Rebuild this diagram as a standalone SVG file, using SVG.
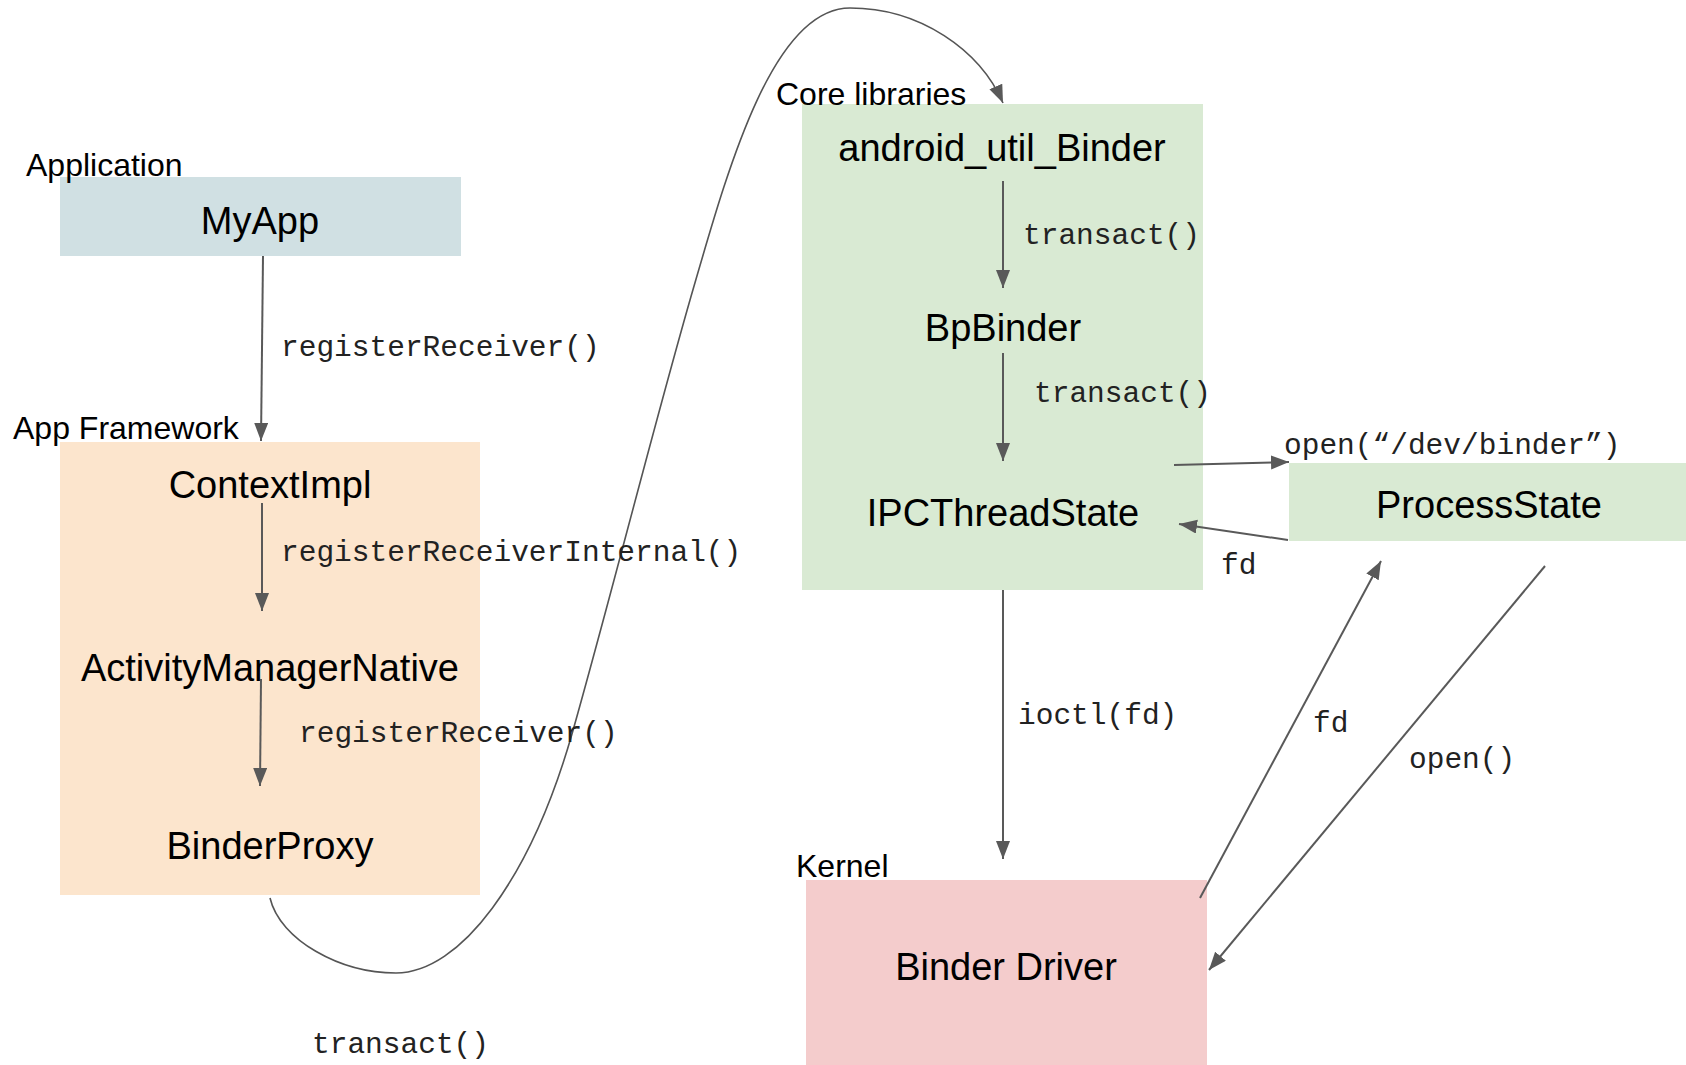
<svg xmlns="http://www.w3.org/2000/svg" width="1686" height="1065" viewBox="0 0 1686 1065">
<defs>
<marker id="ah" markerUnits="userSpaceOnUse" markerWidth="20" markerHeight="15" refX="18" refY="7" orient="auto">
<path d="M0,0 L18,7 L0,14 z" fill="#595959"/>
</marker>
<style>
.grp{font-family:"Liberation Sans",Arial,sans-serif;font-size:32px;fill:#000}
.node{font-family:"Liberation Sans",Arial,sans-serif;font-size:38px;fill:#000;text-anchor:middle}
.lbl{font-family:"Liberation Mono","Courier New",monospace;font-size:29.5px;fill:#222}
.ln{stroke:#595959;stroke-width:2;fill:none;marker-end:url(#ah)}
.cv{stroke:#555;stroke-width:1.6;fill:none;marker-end:url(#ah)}
</style>
</defs>
<rect width="1686" height="1065" fill="#fff"/>
<g id="application">
<rect x="60" y="177" width="401" height="79" fill="#d0e0e3"/>
<text class="grp" x="26" y="176">Application</text>
<text class="node" x="260" y="234">MyApp</text>
</g>
<g id="app-framework">
<rect x="60" y="442" width="420" height="453" fill="#fce5cd"/>
<text class="grp" x="13" y="439">App Framework</text>
<text class="node" x="270" y="498">ContextImpl</text>
<text class="node" x="270" y="681">ActivityManagerNative</text>
<text class="node" x="270" y="859">BinderProxy</text>
</g>
<g id="core-libraries">
<rect x="802" y="104" width="401" height="486" fill="#d9ead3"/>
<text class="grp" x="776" y="105">Core libraries</text>
<text class="node" x="1002" y="161">android_util_Binder</text>
<text class="node" x="1003" y="341">BpBinder</text>
<text class="node" x="1003" y="526">IPCThreadState</text>
</g>
<g id="process-state">
<rect x="1289" y="463" width="397" height="78" fill="#d9ead3"/>
<text class="node" x="1489" y="518">ProcessState</text>
</g>
<g id="kernel">
<rect x="806" y="880" width="401" height="185" fill="#f4cccc"/>
<text class="grp" x="796" y="877">Kernel</text>
<text class="node" x="1006" y="980">Binder Driver</text>
</g>
<g id="connectors">
<path class="ln" d="M263,256 L261,441"/>
<path class="ln" d="M262,503 L262,611"/>
<path class="ln" d="M261,679 L260,786"/>
<path class="ln" d="M1003,181 L1003,288"/>
<path class="ln" d="M1003,353 L1003,461"/>
<path class="ln" d="M1174,465 L1289,462"/>
<path class="ln" d="M1288,540 L1179,524"/>
<path class="ln" d="M1003,590 L1003,859"/>
<path class="ln" d="M1200,898 L1381,561"/>
<path class="ln" d="M1545,566 L1209,970"/>
<path class="cv" d="M270,898 C280,940 340,973 396,973 C460,973 530,880 572,734 C610,600 650,440 690,300 C725,180 770,8 850,8 C920,8 980,50 1003,103"/>
<text class="lbl" x="281" y="356">registerReceiver()</text>
<text class="lbl" x="281" y="561">registerReceiverInternal()</text>
<text class="lbl" x="299" y="742">registerReceiver()</text>
<text class="lbl" x="1023" y="244">transact()</text>
<text class="lbl" x="1034" y="402">transact()</text>
<text class="lbl" x="1284" y="454">open(“/dev/binder”)</text>
<text class="lbl" x="1221" y="574">fd</text>
<text class="lbl" x="1018" y="724">ioctl(fd)</text>
<text class="lbl" x="1313" y="732">fd</text>
<text class="lbl" x="1409" y="768">open()</text>
<text class="lbl" x="312" y="1053">transact()</text>
</g>
</svg>
